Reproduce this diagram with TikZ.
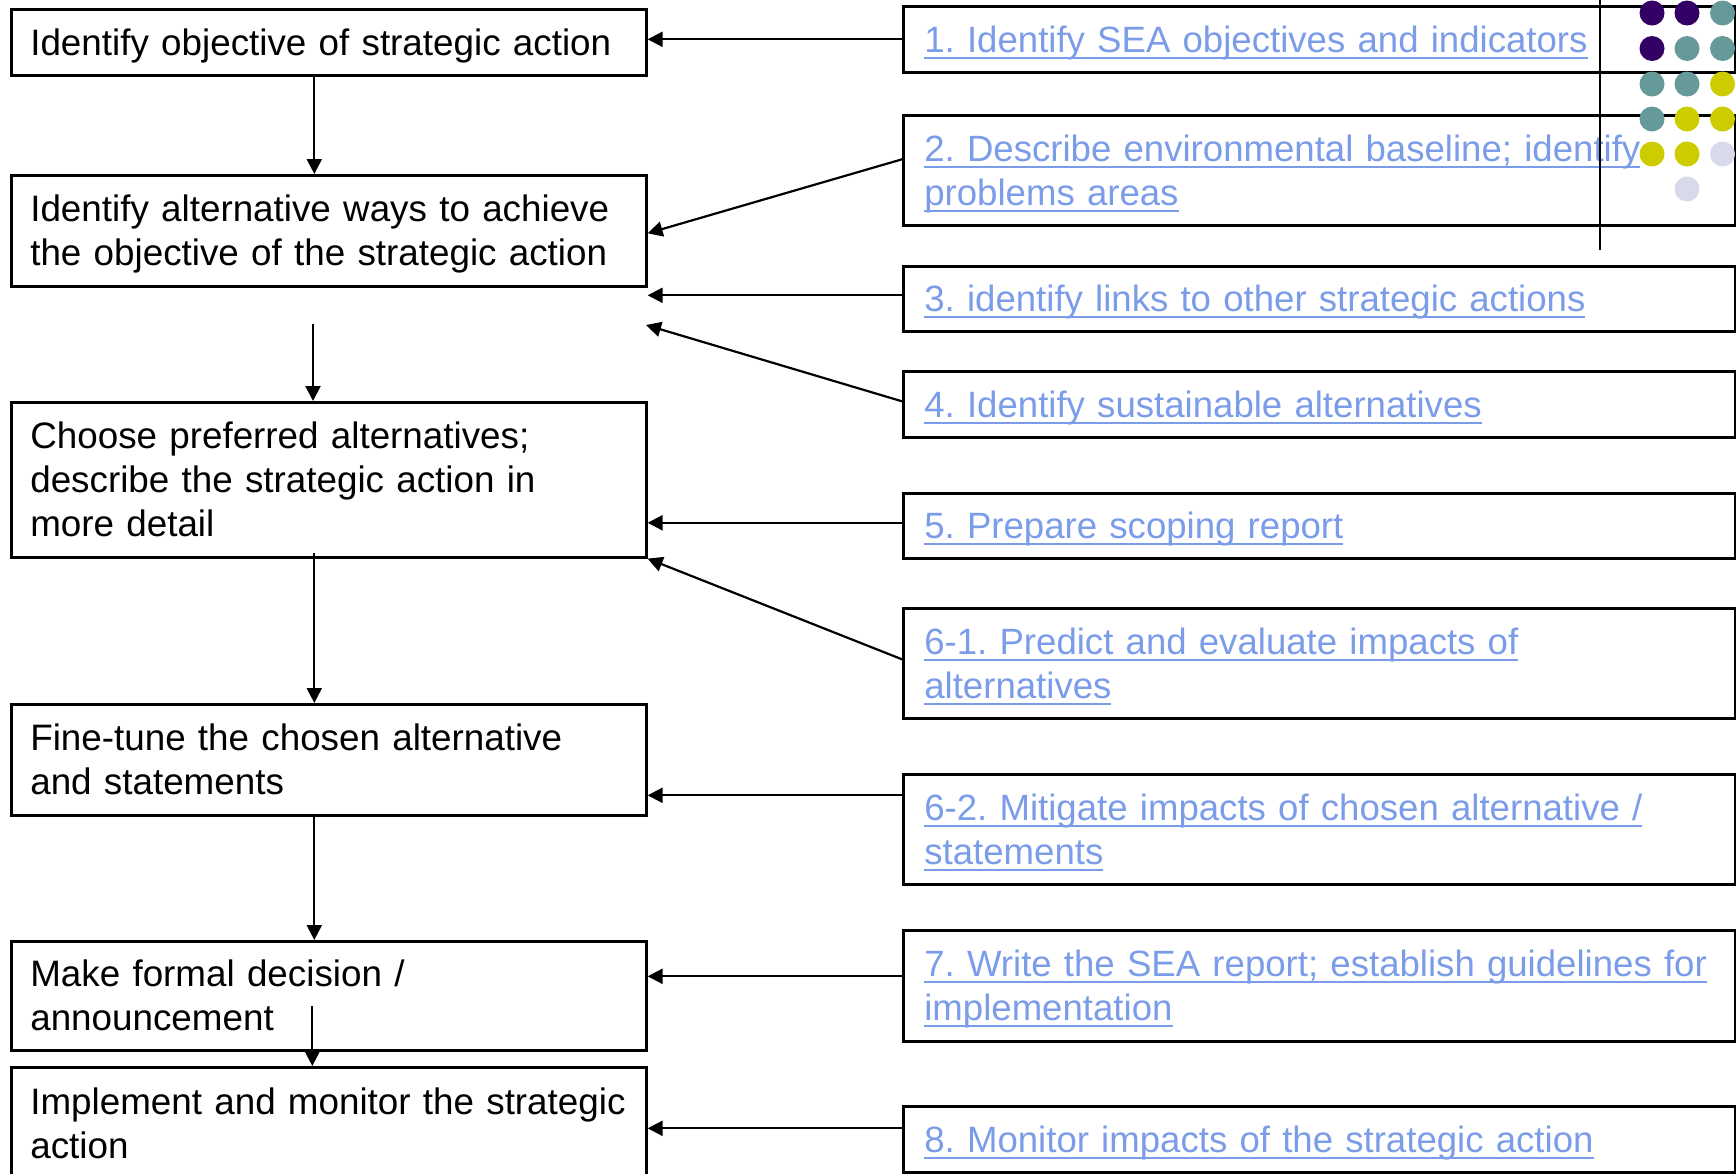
\documentclass[tikz,border=0pt]{standalone}
\usepackage{fontspec}
\setmainfont{Liberation Sans}
\usetikzlibrary{arrows.meta}
\definecolor{linkblue}{RGB}{123,156,232}
\definecolor{dotpurple}{RGB}{51,0,102}
\definecolor{dotteal}{RGB}{102,153,153}
\definecolor{dotyellow}{RGB}{204,204,0}
\definecolor{dotlilac}{RGB}{217,217,236}
\newsavebox{\lnkbox}
\newcommand{\lnk}[1]{\leavevmode\sbox{\lnkbox}{#1}\rlap{\usebox{\lnkbox}}\raisebox{0pt}[0pt][0pt]{\vrule width\wd\lnkbox height -4.4pt depth 6.8pt}\relax}
\frenchspacing

\begin{document}
\begin{tikzpicture}[
  x=1pt, y=-1pt,
  textlines/.style={execute at begin node={\noindent\rule{0pt}{33.5pt}}, execute at end node={\rule[-7.8pt]{0pt}{7.8pt}}},
  stage/.style={rectangle, draw, line width=2.6pt, anchor=north west, text width=597pt, inner xsep=19pt, inner ysep=0pt, align=left, textlines, font=\fontsize{36.8}{44}\selectfont},
  task/.style={rectangle, draw, line width=2.6pt, anchor=north west, text width=790pt, inner xsep=21pt, inner ysep=0pt, align=left, textlines, text=linkblue, font=\fontsize{36.6}{44}\selectfont},
  arrow/.style={-{Triangle[length=15pt,width=15pt]}, line width=2.2pt},
  dot/.style={circle, fill=#1, inner sep=0pt, minimum size=25pt}
]
  \useasboundingbox (0,0) rectangle (1736,1173);

  % Strategic action steps (left column)
  \node[stage, minimum height=66pt] (objective) at (10,8) {Identify objective of strategic action};
  \node[stage, minimum height=111pt] (altways) at (10,174) {Identify alternative ways to achieve\\the objective of the strategic action};
  \node[stage, minimum height=155pt] (preferred) at (10,401) {Choose preferred alternatives;\\describe the strategic action in\\more detail};
  \node[stage, minimum height=111pt] (finetune) at (10,703) {Fine-tune the chosen alternative\\and statements};
  \node[stage, minimum height=109pt] (decision) at (10,940) {Make formal decision /\\announcement};
  \node[stage, minimum height=113pt] (implement) at (10,1066) {Implement and monitor the strategic\\action};

  % SEA tasks (right column)
  \node[task, minimum height=66pt] (seaobj) at (902,5) {\lnk{1. Identify SEA objectives and indicators}};
  \node[task, minimum height=110pt] (baseline) at (902,114) {\lnk{2. Describe environmental baseline; identify}\\\lnk{problems areas}};
  \node[task, minimum height=65pt] (links) at (902,265) {\lnk{3. identify links to other strategic actions}};
  \node[task, minimum height=66pt] (sustain) at (902,370) {\lnk{4. Identify sustainable alternatives}};
  \node[task, minimum height=65pt] (scoping) at (902,492) {\lnk{5. Prepare scoping report}};
  \node[task, minimum height=110pt] (predict) at (902,607) {\lnk{6-1. Predict and evaluate impacts of}\\\lnk{alternatives}};
  \node[task, minimum height=110pt] (mitigate) at (902,773) {\lnk{6-2. Mitigate impacts of chosen alternative /}\\\lnk{statements}};
  \node[task, minimum height=111pt] (report) at (902,929) {\lnk{7. Write the SEA report; establish guidelines for}\\\lnk{implementation}};
  \node[task, minimum height=66pt] (monitor) at (902,1105) {\lnk{8. Monitor impacts of the strategic action}};

  % free ends in the gap below the second step
  \coordinate (gapsustain) at (646,325);
  \coordinate (gapdown) at (313,324);

  % Flow of the strategic action
  \draw[arrow] ([xshift=-14.5pt]objective.south) -- ([xshift=-14.5pt]altways.north);
  \draw[arrow] (gapdown) -- (gapdown |- preferred.north);
  \draw[arrow] ([xshift=-14.5pt,yshift=6pt]preferred.south) -- ([xshift=-14.5pt]finetune.north);
  \draw[arrow] ([xshift=-14.5pt]finetune.south) -- ([xshift=-14.5pt]decision.north);
  \draw[arrow] ([xshift=-16.5pt,yshift=-10pt]decision.center) -- ([xshift=-16.5pt]implement.north);

  % SEA tasks feeding the steps
  \draw[arrow] (seaobj.west) -- (seaobj.west -| objective.east);
  \draw[arrow] ([yshift=11pt]baseline.west) -- ([yshift=-2.5pt]altways.east);
  \draw[arrow] ([yshift=3.5pt]links.west) -- ([yshift=3.5pt]links.west -| altways.east);
  \draw[arrow] ([yshift=3pt]sustain.west) -- (gapsustain);
  \draw[arrow] ([yshift=3pt]scoping.west) -- ([yshift=3pt]scoping.west -| preferred.east);
  \draw[arrow] ([yshift=4pt]predict.west) -- (preferred.south east);
  \draw[arrow] ([yshift=34pt]mitigate.west) -- ([yshift=34pt]mitigate.west -| finetune.east);
  \draw[arrow] ([yshift=9.5pt]report.west) -- ([yshift=9.5pt]report.west -| decision.east);
  \draw[arrow] ([yshift=11pt]monitor.west) -- ([yshift=11pt]monitor.west -| implement.east);

  % corner ornament
  \draw[line width=1.8pt] (1600,0) -- (1600,250);
  \foreach \row/\colA/\colB/\colC in {13/dotpurple/dotpurple/dotteal, 48.5/dotpurple/dotteal/dotteal, 84/dotteal/dotteal/dotyellow, 119/dotteal/dotyellow/dotyellow, 154/dotyellow/dotyellow/dotlilac} {
    \node[dot=\colA] at (1652,\row) {};
    \node[dot=\colB] at (1687,\row) {};
    \node[dot=\colC] at (1722.5,\row) {};
  }
  \node[dot=dotlilac] at (1687,189) {};
\end{tikzpicture}
\end{document}
